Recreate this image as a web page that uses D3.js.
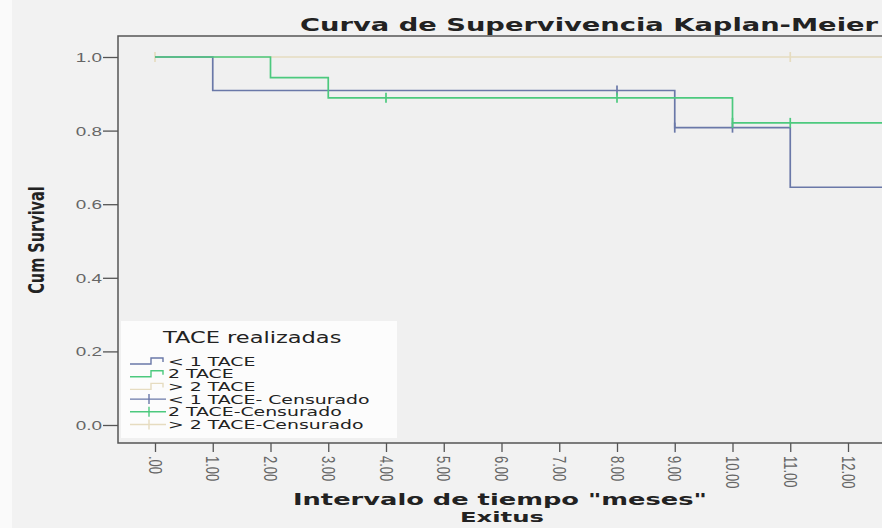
<!DOCTYPE html>
<html>
<head>
<meta charset="utf-8">
<script src="https://cdn.jsdelivr.net/npm/d3@7"></script>
<style>
  body { margin: 0; background: #f2f2f2; }
  svg { display: block; }
</style>
</head>
<body>
<div id="root"></div>
<script>
// x tick values (months)
const xTicks = [0, 1, 2, 3, 4, 5, 6, 7, 8, 9, 10, 11, 12];
const xTickLabels = [".00", "1.00", "2.00", "3.00", "4.00", "5.00", "6.00", "7.00", "8.00", "9.00", "10.00", "11.00", "12.00"];
const yTicks = [0, 0.2, 0.4, 0.6, 0.8, 1.0];

// survival steps per group (time, cumulative survival)
const lowTime = [0, 1, 9, 11, 13.5];
const lowSurv = [1, 0.909, 0.808, 0.646, 0.646];
const twoTime = [0, 2, 3, 10, 13.5];
const twoSurv = [1, 0.944, 0.889, 0.821, 0.821];
const highTime = [0, 13.5];
const highSurv = [1, 1];

// censored observations
const lowCensTime = [8, 9, 10];
const lowCensSurv = [0.909, 0.808, 0.808];
const twoCensTime = [4, 8, 10, 11];
const twoCensSurv = [0.889, 0.889, 0.821, 0.821];
const highCensTime = [0, 11];
const highCensSurv = [1, 1];

const groupNames = ["< 1 TACE", "2 TACE", "> 2 TACE"];
const censNames = ["< 1 TACE- Censurado", "2 TACE-Censurado", "> 2 TACE-Censurado"];
const colors = ["#6a78a8", "#4cc97e", "#e6dcc0"];

const width = 882;
const height = 528;
const K = 1.45; // the original picture is stretched sideways

const svg = d3.select("#root")
  .append("svg")
  .attr("width", width)
  .attr("height", height)
  .style("font-family", "'DejaVu Sans', Verdana, sans-serif");

// widen a text horizontally by k
function stretch(sel, k) {
  sel.each(function() {
    const w = this.getComputedTextLength();
    d3.select(this).attr("textLength", w * k).attr("lengthAdjust", "spacingAndGlyphs");
  });
}

// background
svg.append("rect").attr("width", width).attr("height", height).attr("fill", "#f2f2f2");
svg.append("rect").attr("width", 12).attr("height", height).attr("fill", "#fafafa");

const frameLeft = 118, frameTop = 36, frameBottom = 443;

const xScale = d3.scaleLinear().domain([0, 12]).range([155, 848]);
const yScale = d3.scaleLinear().domain([0, 1]).range([425, 57]);

// plot frame
svg.append("rect")
  .attr("x", frameLeft)
  .attr("y", frameTop)
  .attr("width", width - frameLeft + 5)
  .attr("height", frameBottom - frameTop)
  .attr("fill", "#f0f0f0")
  .attr("stroke", "#555")
  .attr("stroke-width", 1.5);

// y axis
const yAxis = d3.axisLeft(yScale).tickValues(yTicks).tickFormat(d3.format(".1f")).tickSize(15).tickSizeOuter(0);
const gy = svg.append("g").attr("transform", "translate(" + frameLeft + ",0)").call(yAxis);
gy.select(".domain").remove();
gy.selectAll("line").attr("stroke", "#555").attr("stroke-width", 1.3);
gy.selectAll("text")
  .attr("fill", "#666")
  .style("font-size", "13px")
  .attr("x", -16)
  .attr("dy", "0.35em")
  .call(stretch, K);

// x axis with rotated labels
const xAxis = d3.axisBottom(xScale).tickValues(xTicks).tickFormat((d, i) => xTickLabels[i]).tickSize(9).tickSizeOuter(0);
const gx = svg.append("g").attr("transform", "translate(0," + frameBottom + ")").call(xAxis);
gx.select(".domain").remove();
gx.selectAll("line").attr("stroke", "#555").attr("stroke-width", 1.3);
gx.selectAll("text")
  .attr("fill", "#666")
  .style("font-size", "13px")
  .attr("text-anchor", "start")
  .attr("y", 0)
  .attr("x", 0)
  .attr("dy", "0.36em")
  .attr("transform", "translate(0,13) rotate(90) scale(1," + K + ")");

const stepLine = d3.line()
  .x(d => xScale(d[0]))
  .y(d => yScale(d[1]))
  .curve(d3.curveStepAfter);

const plot = svg.append("g");
plot.append("clipPath").attr("id", "clip")
  .append("rect").attr("x", frameLeft).attr("y", frameTop).attr("width", width).attr("height", frameBottom - frameTop);

const groups = [
  {time: highTime, surv: highSurv, ct: highCensTime, cs: highCensSurv, color: colors[2]},
  {time: lowTime, surv: lowSurv, ct: lowCensTime, cs: lowCensSurv, color: colors[0]},
  {time: twoTime, surv: twoSurv, ct: twoCensTime, cs: twoCensSurv, color: colors[1]}
];

groups.forEach(function(g) {
  const pts = g.time.map((t, i) => [t, g.surv[i]]);
  plot.append("path")
    .attr("d", stepLine(pts))
    .attr("clip-path", "url(#clip)")
    .attr("fill", "none")
    .attr("stroke", g.color)
    .attr("stroke-width", 1.7);
  // censor ticks
  g.ct.forEach(function(t, i) {
    plot.append("line")
      .attr("x1", xScale(t)).attr("x2", xScale(t))
      .attr("y1", yScale(g.cs[i]) - 5).attr("y2", yScale(g.cs[i]) + 5)
      .attr("stroke", g.color)
      .attr("stroke-width", 1.7);
  });
});

// title
svg.append("text")
  .attr("x", 300)
  .attr("y", 31)
  .attr("textLength", 578)
  .attr("lengthAdjust", "spacingAndGlyphs")
  .style("font-size", "17.5px")
  .style("font-weight", "bold")
  .attr("fill", "#222")
  .text("Curva de Supervivencia Kaplan-Meier");

// y axis label
svg.append("text")
  .attr("transform", "translate(44, 240) rotate(-90) scale(1," + K + ")")
  .attr("text-anchor", "middle")
  .style("font-size", "14.5px")
  .style("font-weight", "bold")
  .attr("fill", "#222")
  .text("Cum Survival");

// x axis label
svg.append("text")
  .attr("x", 500)
  .attr("y", 505)
  .attr("text-anchor", "middle")
  .attr("textLength", 414)
  .attr("lengthAdjust", "spacingAndGlyphs")
  .style("font-size", "16px")
  .style("font-weight", "bold")
  .attr("fill", "#222")
  .text("Intervalo de tiempo \"meses\"");

svg.append("text")
  .attr("x", 502)
  .attr("y", 522)
  .attr("text-anchor", "middle")
  .attr("textLength", 84)
  .attr("lengthAdjust", "spacingAndGlyphs")
  .style("font-size", "14px")
  .style("font-weight", "bold")
  .attr("fill", "#222")
  .text("Exitus");

// legend
const legend = svg.append("g").attr("transform", "translate(121,321)");
legend.append("rect").attr("width", 276).attr("height", 117).attr("fill", "#fcfcfc");
legend.append("text")
  .attr("x", 42).attr("y", 22)
  .style("font-size", "15px")
  .attr("fill", "#222")
  .text("TACE realizadas")
  .call(stretch, 1.5);

const rowY = d => 40 + d * 12.7;
const legendText = function(name, y) {
  legend.append("text")
    .attr("x", 47).attr("y", y + 4.5)
    .style("font-size", "12px")
    .attr("fill", "#222")
    .text(name)
    .call(stretch, 1.57);
};
groupNames.forEach(function(name, i) {
  const y = rowY(i);
  legend.append("path")
    .attr("d", "M9," + (y + 3) + "H30V" + (y - 3) + "H42V" + (y + 1))
    .attr("fill", "none")
    .attr("stroke", colors[i])
    .attr("stroke-width", 1.4);
  legendText(name, y);
});
censNames.forEach(function(name, j) {
  const y = rowY(j + 3);
  legend.append("line").attr("x1", 9).attr("x2", 45).attr("y1", y).attr("y2", y)
    .attr("stroke", colors[j]).attr("stroke-width", 1.4);
  legend.append("line").attr("x1", 28).attr("x2", 28).attr("y1", y - 5).attr("y2", y + 5)
    .attr("stroke", colors[j]).attr("stroke-width", 1.4);
  legendText(name, y);
});
</script>
</body>
</html>
